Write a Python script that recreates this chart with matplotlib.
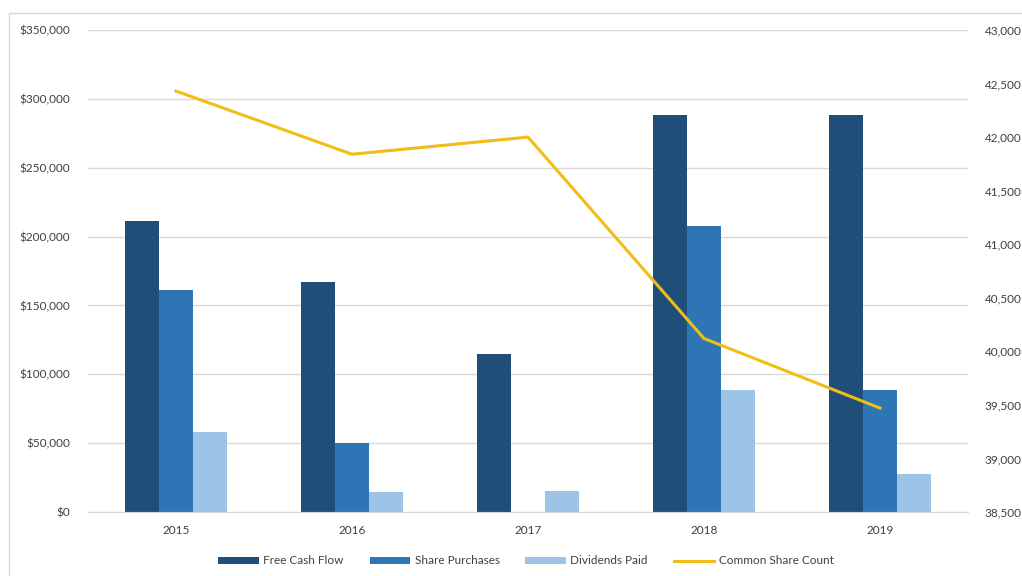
import matplotlib.pyplot as plt
import numpy as np
from matplotlib.patches import Rectangle
from matplotlib.ticker import FuncFormatter, MultipleLocator

# ── data ─────────────────────────────────────────────
years = ["2015", "2016", "2017", "2018", "2019"]
free_cash_flow = [211000, 167000, 114500, 288000, 288000]
share_purchases = [161000, 50000, 0, 208000, 88500]
dividends_paid = [58000, 14500, 15000, 88500, 27500]
share_count = [42430, 41840, 42000, 40120, 39470]

c_fcf = "#1F4E79"
c_sp = "#2E75B6"
c_dp = "#9DC3E6"
c_line = "#F0BE16"
c_grid = "#D9D9D9"
c_text = "#404040"

plt.rcParams["font.family"] = ["Lato", "DejaVu Sans"]

fig = plt.figure(figsize=(10.22, 5.76), dpi=100)
W, H = 1022, 576
ax = fig.add_axes([88 / W, 1 - 512 / H, (968 - 88) / W, (512 - 30) / H])

# chart border
fig.patches.append(Rectangle((9 / W, -0.1), 1.2, 1 - 13 / H + 0.1,
                             transform=fig.transFigure, fill=False,
                             edgecolor=c_grid, linewidth=1.0))

x = np.arange(len(years))
bw = 0.195
ax.bar(x - bw, free_cash_flow, bw, color=c_fcf, label="Free Cash Flow", zorder=2)
ax.bar(x, share_purchases, bw, color=c_sp, label="Share Purchases", zorder=2)
ax.bar(x + bw, dividends_paid, bw, color=c_dp, label="Dividends Paid", zorder=2)

ax.set_xlim(-0.5, 4.5)
ax.set_ylim(0, 350000)
ax.yaxis.set_major_locator(MultipleLocator(50000))
ax.yaxis.set_major_formatter(FuncFormatter(lambda v, p: f"${v:,.0f}"))
ax.set_xticks(x)
ax.set_xticklabels(years)
ax.grid(axis="y", color=c_grid, linewidth=1.0, zorder=0)
for s in ["top", "right", "left"]:
    ax.spines[s].set_visible(False)
ax.spines["bottom"].set_color(c_grid)
ax.tick_params(axis="both", length=0, labelsize=8.5, colors=c_text)
ax.tick_params(axis="y", pad=13)
ax.tick_params(axis="x", pad=9)

ax2 = ax.twinx()
ax2.plot(x, share_count, color=c_line, linewidth=2.2, label="Common Share Count", zorder=3)
ax2.set_ylim(38500, 43000)
ax2.yaxis.set_major_locator(MultipleLocator(500))
ax2.yaxis.set_major_formatter(FuncFormatter(lambda v, p: f"{v:,.0f}"))
for s in ["top", "right", "left", "bottom"]:
    ax2.spines[s].set_visible(False)
ax2.tick_params(axis="y", length=0, labelsize=8.5, colors=c_text, pad=12)

h1, l1 = ax.get_legend_handles_labels()
h2, l2 = ax2.get_legend_handles_labels()
fig.legend(h1 + h2, l1 + l2, loc="center", bbox_to_anchor=(526 / W, 1 - 561 / H),
           ncol=4, frameon=False, fontsize=8.5, handlelength=3.4, handleheight=0.5,
           columnspacing=2.2, handletextpad=0.4, labelcolor=c_text)

fig.savefig("out.png", dpi=100)
